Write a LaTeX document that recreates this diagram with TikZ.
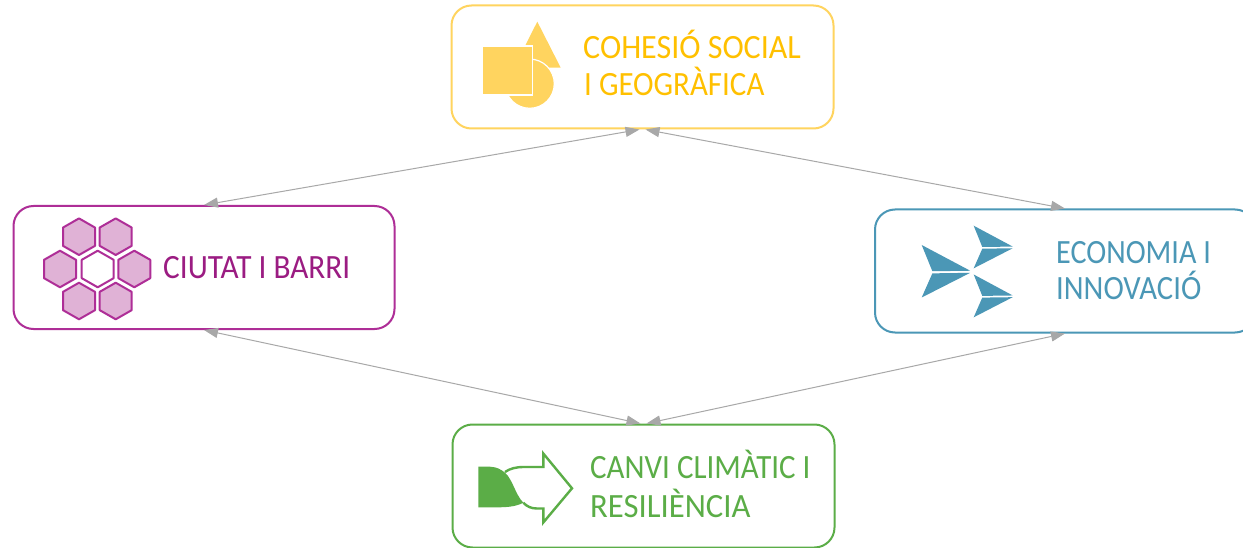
\documentclass[tikz,border=0pt]{standalone}
\usepackage{fontspec}
\setmainfont[FakeStretch=0.92]{Carlito}
\usetikzlibrary{arrows.meta}
\definecolor{cyel}{HTML}{FFD45F}
\definecolor{cyelt}{HTML}{FFC000}
\definecolor{cmag}{HTML}{AE2E97}
\definecolor{cmagt}{HTML}{9B1C82}
\definecolor{cmagf}{HTML}{E0B2D6}
\definecolor{cblu}{HTML}{4B97B6}
\definecolor{cgrn}{HTML}{5BAD47}
\definecolor{cgry}{HTML}{A8A8A8}
\tikzset{
  x=1pt,y=-1pt,
  card/.style={draw=#1,rounded corners=20pt,line width=2pt,fill=white,inner sep=0pt},
  lab/.style={anchor=base west,inner sep=0pt,font=\fontsize{34}{34}\selectfont,text=#1},
  fit width/.style={xscale=#1,transform shape},
  link/.style={draw=cgry,line width=1pt,{Triangle[length=14pt,width=10pt,fill=cgry]}-{Triangle[length=14pt,width=10pt,fill=cgry]}},
  hexa/.style={draw=cmag,line width=2pt,line join=round,fill=#1},
}
\newcommand{\hexat}[3]{\path[hexa=#3] (#1,#2-18.3) -- ++(16,9.15) -- ++(0,18.3) -- ++(-16,9.15) -- ++(-16,-9.15) -- ++(0,-18.3) -- cycle;}
\newcommand{\dart}[4]{%
  \fill[cblu] (#1,#2) -- (#1+#3,#2+#4*0.49) -- (#1+#3*0.22,#2+#4*0.5) -- cycle;
  \fill[cblu] (#1,#2+#4) -- (#1+#3,#2+#4*0.53) -- (#1+#3*0.22,#2+#4*0.54) -- cycle;
  }
\begin{document}
\begin{tikzpicture}
\clip (0,0) rectangle (1243,548);
\fill[white] (0,0) rectangle (1243,548);

\node[card=cyel,minimum width=382pt,minimum height=123pt] (top) at (642.5,67) {};
\node[card=cmag,minimum width=381pt,minimum height=123pt] (left) at (204,267.5) {};
\node[card=cblu,minimum width=380pt,minimum height=123pt] (right) at (1065,271) {};
\node[card=cgrn,minimum width=382pt,minimum height=123pt] (bottom) at (643.5,486) {};

\draw[link] ([xshift=-3pt]top.south) -- (left.north);
\draw[link] ([xshift=3pt]top.south) -- (right.north);
\draw[link] ([xshift=-3pt]bottom.north) -- (left.south);
\draw[link] ([xshift=3pt]bottom.north) -- (right.south);

% yellow icon
\fill[cyel] (537.3,21.7) -- (560.7,67.7) -- (514,67.7) -- cycle;
\draw[white,line width=1.2pt,fill=cyel] (529.7,83.7) circle (24.6);
\draw[white,line width=1.2pt,fill=cyel] (482.7,46) rectangle (532.3,95);
\node[lab=cyelt,fit width=1.025] (t1) at (583,59) {COHESIÓ SOCIAL};
\node[lab=cyelt,fit width=0.99] (t2) at (584,96) {I GEOGRÀFICA};

% hexagons
\hexat{79}{236.7}{cmagf}
\hexat{115.7}{236.7}{cmagf}
\hexat{60}{269}{cmagf}
\hexat{97.7}{269}{white}
\hexat{134.3}{269}{cmagf}
\hexat{79}{301}{cmagf}
\hexat{115.7}{301}{cmagf}
\node[lab=cmagt] (t3) at (163,279) {CIUTAT I BARRI};

% darts
\dart{921.7}{245}{48.5}{52.5}
\dart{973.7}{225.7}{39}{42.6}
\dart{973.7}{274.5}{39}{42.8}
\node[lab=cblu,fit width=0.963] (t4) at (1056,264) {ECONOMIA I};
\node[lab=cblu,fit width=0.98] (t5) at (1056,300) {INNOVACIÓ};

% green arrow
\fill[cgrn] (478.3,466.7) -- (490,466.7) .. controls (497,467) and (501,469.5) .. (505,472.7)
  .. controls (513,480) and (515,494) .. (523.3,502.7)
  .. controls (516,506.5) and (508,507.3) .. (497,507.3) -- (478.3,507.3) -- cycle;
\draw[cgrn,line width=2.4pt,line join=miter] (505,472) .. controls (510,468.5) and (516,467) .. (524,467) -- (543.3,467) -- (543.3,453.5) -- (572,488.3) -- (543.3,522.5) -- (543.3,508.5)
  -- (537,508.5) .. controls (531,508.5) and (527,506.5) .. (523.3,502.7);
\node[lab=cgrn,fit width=0.99] (t6) at (590,478) {CANVI CLIMÀTIC I};
\node[lab=cgrn,fit width=1.045] (t7) at (590,517) {RESILIÈNCIA};
\end{tikzpicture}
\end{document}
